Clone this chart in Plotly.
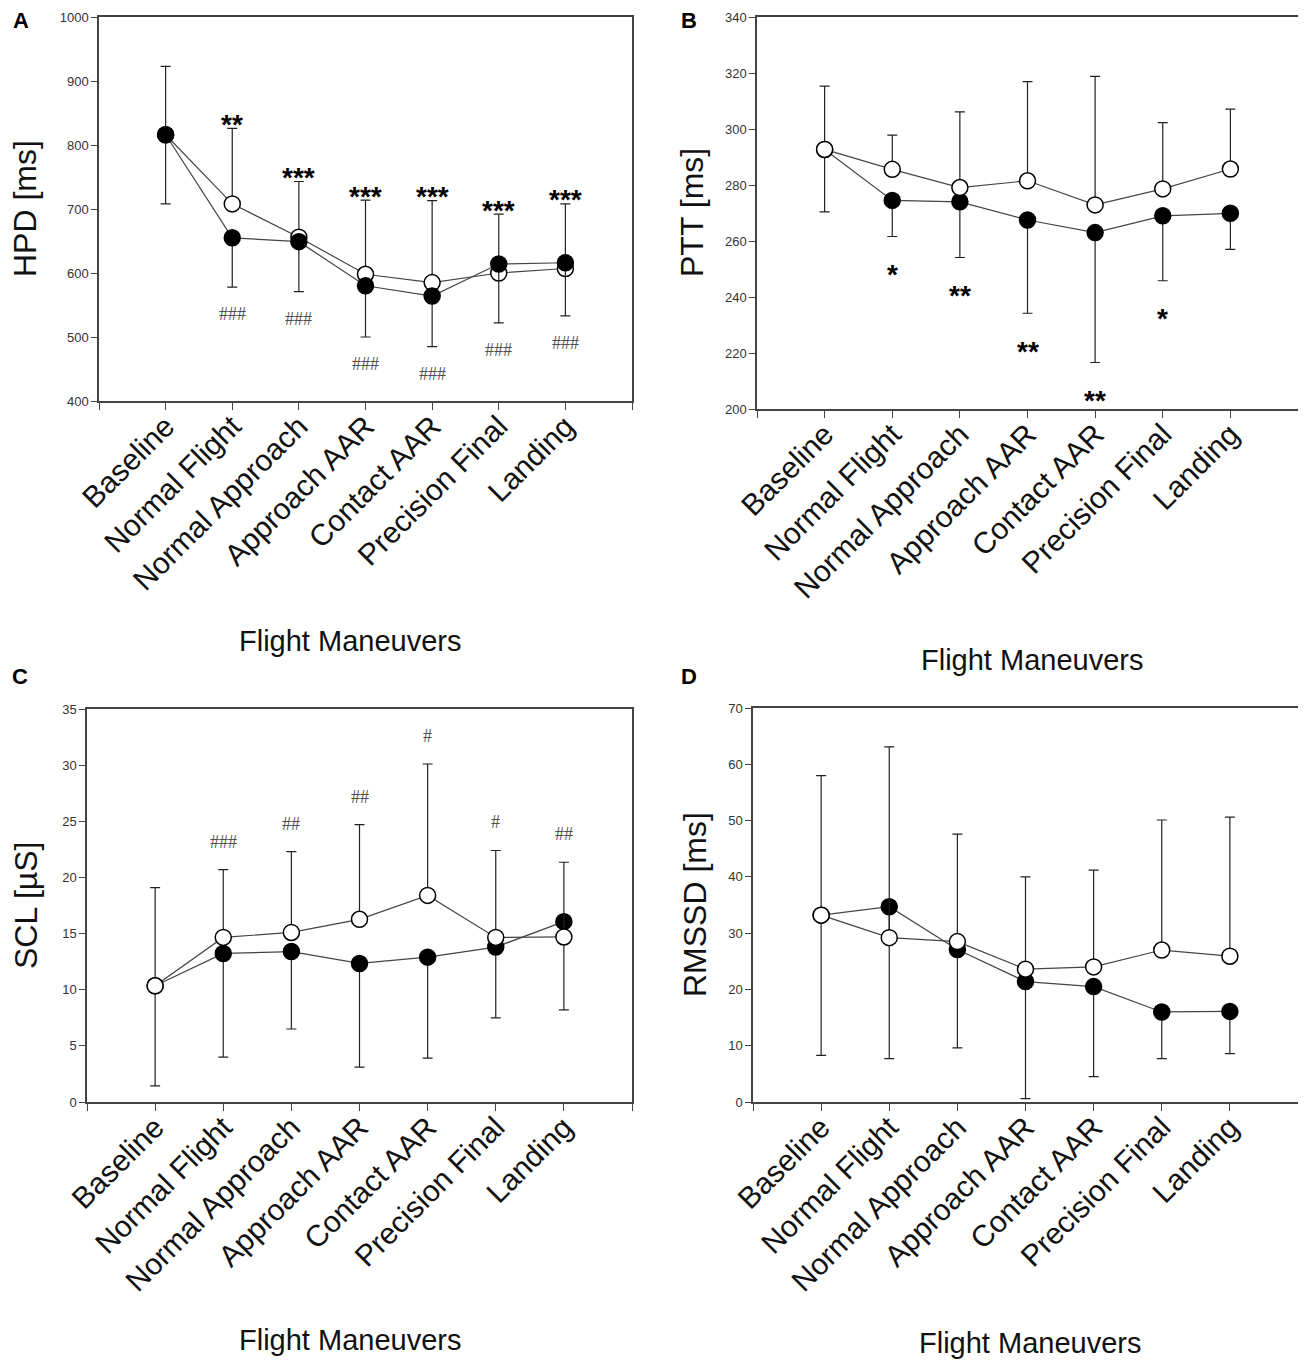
import plotly.graph_objects as go

PAGE_W, PAGE_H = 1306, 1368
BODY = 8  # default page margin around the figure
W, H = PAGE_W - 2 * BODY, PAGE_H - 2 * BODY

categories = ["Baseline", "Normal Flight", "Normal Approach", "Approach AAR",
              "Contact AAR", "Precision Final", "Landing"]

# Panel A – HPD [ms]
hpd_open = [816, 708, 656, 598, 585, 600, 607]
hpd_filled = [816, 655, 649, 580, 564, 614, 616]
hpd_upper = [923, 826, 743, 714, 713, 692, 708]
hpd_lower = [708, 578, 571, 500, 485, 522, 533]
hpd_stars = ["", "**", "***", "***", "***", "***", "***"]
hpd_hash = ["", "###", "###", "###", "###", "###", "###"]

# Panel B – PTT [ms]
ptt_open = [292.7, 285.6, 279.1, 281.5, 272.9, 278.6, 285.7]
ptt_filled = [292.7, 274.5, 274.0, 267.5, 263.0, 269.0, 269.9]
ptt_upper = [315.3, 297.8, 306.1, 316.9, 318.8, 302.3, 307.1]
ptt_lower = [270.4, 261.6, 254.1, 234.2, 216.6, 245.8, 257.0]
ptt_stars = ["", "*", "**", "**", "**", "*", ""]

# Panel C – SCL [µS]
scl_open = [10.35, 14.66, 15.1, 16.27, 18.4, 14.66, 14.7]
scl_filled = [10.35, 13.23, 13.4, 12.34, 12.9, 13.8, 16.06]
scl_upper = [19.1, 20.7, 22.3, 24.7, 30.1, 22.4, 21.35]
scl_lower = [1.43, 4.0, 6.5, 3.1, 3.9, 7.5, 8.2]
scl_hash = ["", "###", "##", "##", "#", "#", "##"]

# Panel D – RMSSD [ms]
rmssd_open = [33.2, 29.2, 28.5, 23.6, 24.0, 27.0, 25.9]
rmssd_filled = [33.2, 34.7, 27.1, 21.4, 20.5, 16.0, 16.1]
rmssd_upper = [58.0, 63.1, 47.6, 40.0, 41.2, 50.1, 50.6]
rmssd_lower = [8.3, 7.7, 9.6, 0.6, 4.5, 7.7, 8.6]

y_ranges = {"A": (400, 1000, 100), "B": (200, 340, 20), "C": (0, 35, 5), "D": (0, 70, 10)}
y_titles = {"A": "HPD [ms]", "B": "PTT [ms]", "C": "SCL [µS]", "D": "RMSSD [ms]"}

# page-pixel boxes (left, right, top, bottom)
boxes = {"A": (99, 632, 17, 401), "B": (757, 1305, 17, 409),
         "C": (87, 632, 709, 1102), "D": (753, 1305, 708, 1102)}

FONT = "Liberation Sans, Arial, sans-serif"
AXC = "#444444"
xs = list(range(len(categories)))

fig = go.Figure()
layout = dict(width=W, height=H,
              margin=dict(l=0, r=0, t=0, b=0, pad=0, autoexpand=False),
              template="none",
              paper_bgcolor="white", plot_bgcolor="white", showlegend=False)
annotations = []


def px(x):
    return (x - BODY) / W


def py(y):
    return 1 - (y - BODY) / H


def add_panel(key, idx, opens, filleds, upper, lower, open_first):
    xa = "x" if idx == 1 else f"x{idx}"
    ya = "y" if idx == 1 else f"y{idx}"
    l, r, t, b = boxes[key]
    y0, y1, dt = y_ranges[key]
    layout["xaxis" if idx == 1 else f"xaxis{idx}"] = dict(
        domain=[px(l), min(1, px(r))], anchor=ya, range=[-1, 7], automargin=False,
        tickmode="array", tickvals=list(range(-1, 8)),
        ticktext=[""] + categories + [""], tickangle=-45,
        tickfont=dict(family=FONT, size=30, color="#111"),
        ticklabelstandoff=-13,
        ticks="outside", ticklen=7, tickwidth=1.3, tickcolor=AXC,
        showline=True, linecolor=AXC, linewidth=1.5, mirror=True,
        showgrid=False, zeroline=False, fixedrange=True)
    layout["yaxis" if idx == 1 else f"yaxis{idx}"] = dict(
        domain=[py(b), py(t)], anchor=xa, range=[y0, y1], automargin=False,
        tickmode="linear", tick0=y0, dtick=dt,
        tickfont=dict(family=FONT, size=13, color="#333"),
        ticks="outside", ticklen=6, tickwidth=1.3, tickcolor=AXC,
        showline=True, linecolor=AXC, linewidth=1.5, mirror=True,
        showgrid=False, zeroline=False, fixedrange=True)

    err_up = [u - m for u, m in zip(upper, opens)]
    err_dn = [m - lo for m, lo in zip(filleds, lower)]
    open_tr = go.Scatter(
        x=xs, y=opens, xaxis=xa, yaxis=ya, mode="lines+markers",
        line=dict(color="#444", width=1.2),
        marker=dict(symbol="circle", size=16, color="white",
                    line=dict(color="black", width=1.5)),
        error_y=dict(type="data", symmetric=False, array=err_up,
                     arrayminus=[0] * len(opens), color="#222",
                     thickness=1.2, width=5))
    filled_tr = go.Scatter(
        x=xs, y=filleds, xaxis=xa, yaxis=ya, mode="lines+markers",
        line=dict(color="#444", width=1.2),
        marker=dict(symbol="circle", size=16, color="black",
                    line=dict(color="black", width=1.5)),
        error_y=dict(type="data", symmetric=False, array=[0] * len(filleds),
                     arrayminus=err_dn, color="#222",
                     thickness=1.2, width=5))
    if open_first:
        fig.add_trace(open_tr)
        fig.add_trace(filled_tr)
    else:
        fig.add_trace(filled_tr)
        fig.add_trace(open_tr)
    return xa, ya


def add_marks(xa, ya, labels, anchor_vals, yshift, font):
    for i, (lab, v) in enumerate(zip(labels, anchor_vals)):
        if not lab:
            continue
        annotations.append(dict(x=i, y=v, xref=xa, yref=ya, text=lab,
                                showarrow=False, xanchor="center",
                                yanchor="middle", yshift=yshift, font=font))


star_font = dict(family=FONT, size=28, color="black", weight="bold")
hash_font = dict(family="Liberation Serif, Times New Roman, serif", size=18,
                 color="#505050")

xa, ya = add_panel("A", 1, hpd_open, hpd_filled, hpd_upper, hpd_lower, True)
add_marks(xa, ya, hpd_stars, hpd_upper, 4, star_font)
add_marks(xa, ya, hpd_hash, hpd_lower, -27, hash_font)

xa, ya = add_panel("B", 2, ptt_open, ptt_filled, ptt_upper, ptt_lower, False)
add_marks(xa, ya, ptt_stars, ptt_lower, -38, star_font)

xa, ya = add_panel("C", 3, scl_open, scl_filled, scl_upper, scl_lower, False)
add_marks(xa, ya, scl_hash, scl_upper, 28, hash_font)

xa, ya = add_panel("D", 4, rmssd_open, rmssd_filled, rmssd_upper, rmssd_lower, False)

# panel letters, axis titles (page pixel positions)
letters = {"A": (21, 21), "B": (689, 21), "C": (20, 676), "D": (689, 676)}
ytitle_pos = {"A": (25, 209), "B": (692, 213), "C": (26, 905), "D": (695, 905)}
xtitle_pos = {"A": (350, 641), "B": (1032, 660), "C": (350, 1340), "D": (1030, 1343)}
for k in "ABCD":
    lx, ly = letters[k]
    annotations.append(dict(x=px(lx), y=py(ly), xref="paper", yref="paper",
                            text=k, showarrow=False, xanchor="center",
                            yanchor="middle",
                            font=dict(family=FONT, size=22, color="black",
                                      weight="bold")))
    tx, ty = ytitle_pos[k]
    annotations.append(dict(x=px(tx), y=py(ty), xref="paper", yref="paper",
                            text=y_titles[k], showarrow=False, textangle=-90,
                            xanchor="center", yanchor="middle",
                            font=dict(family=FONT, size=32, color="#111")))
    fx, fy = xtitle_pos[k]
    annotations.append(dict(x=px(fx), y=py(fy), xref="paper", yref="paper",
                            text="Flight Maneuvers", showarrow=False,
                            xanchor="center", yanchor="middle",
                            font=dict(family=FONT, size=29, color="#111")))

layout["annotations"] = annotations
fig.update_layout(**layout)
fig.write_html("out.html")
